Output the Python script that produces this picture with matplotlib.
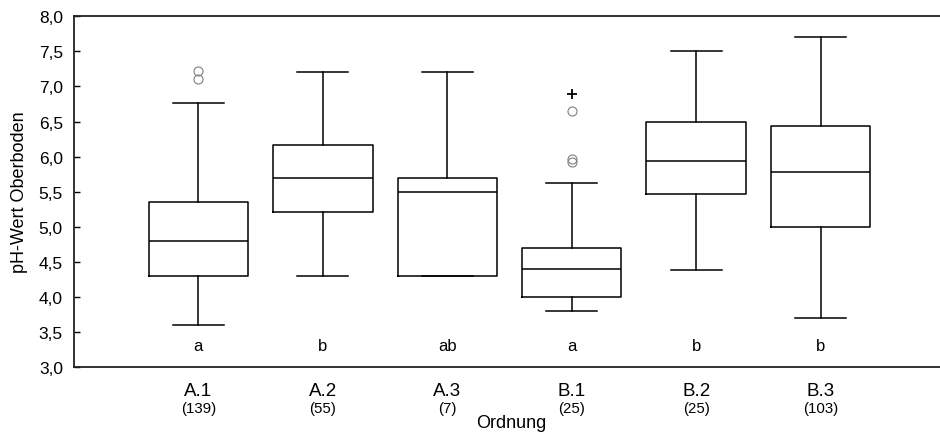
import numpy as np
import matplotlib.pyplot as plt

plt.rcParams['font.family'] = ['Liberation Sans', 'DejaVu Sans']

# values
groups = ["A.1", "A.2", "A.3", "B.1", "B.2", "B.3"]
counts = [139, 55, 7, 25, 25, 103]
whis_lo = [3.60, 4.30, 4.30, 3.80, 4.39, 3.70]
q1 = [4.30, 5.21, 4.30, 4.00, 5.47, 5.00]
med = [4.80, 5.70, 5.50, 4.40, 5.94, 5.78]
q3 = [5.35, 6.17, 5.70, 4.70, 6.50, 6.44]
whis_hi = [6.77, 7.20, 7.20, 5.62, 7.50, 7.70]
outliers = [[7.10, 7.22], [], [], [5.92, 5.97, 6.65], [], []]
extremes = [[], [], [], [6.89], [], []]
letters = ["a", "b", "ab", "a", "b", "b"]

stats = []
for i in range(len(groups)):
    stats.append(dict(whislo=whis_lo[i], q1=q1[i], med=med[i], q3=q3[i],
                      whishi=whis_hi[i], fliers=[]))

pos = np.arange(1, len(groups) + 1)

fig = plt.figure(figsize=(9.4, 4.35), dpi=100)
ax = fig.add_axes([74 / 940, 1 - 368 / 435, 871 / 940, 350.7 / 435])

lw = 1.1
ax.bxp(stats, positions=pos, widths=0.8, capwidths=0.41, showfliers=False,
       boxprops=dict(color="black", linewidth=lw),
       medianprops=dict(color="black", linewidth=lw),
       whiskerprops=dict(color="black", linewidth=lw),
       capprops=dict(color="black", linewidth=lw))

for i, p in enumerate(pos):
    if outliers[i]:
        ax.plot([p] * len(outliers[i]), outliers[i], linestyle="none", marker="o",
                markersize=6.5, markerfacecolor="none", markeredgecolor="#808080",
                markeredgewidth=0.8)
    if extremes[i]:
        ax.plot([p] * len(extremes[i]), extremes[i], linestyle="none", marker="+",
                markersize=7, color="black", markeredgewidth=1.3)
    ax.text(p, 3.31, letters[i], ha="center", va="center", fontsize=12)
    ax.annotate("(%d)" % counts[i], xy=(p, 0), xycoords=("data", "axes fraction"),
                xytext=(0, -29.5), textcoords="offset points",
                ha="center", va="center", fontsize=10.8)

ax.set_xlim(0, 7)
ax.set_ylim(3, 8)
ax.set_yticks(np.arange(3, 8.01, 0.5))
ax.set_yticklabels([("%.1f" % v).replace(".", ",") for v in np.arange(3, 8.01, 0.5)])
ax.set_xticks(pos)
ax.set_xticklabels(groups)
ax.tick_params(axis="y", direction="in", length=4, width=1, labelsize=12.5, pad=8)
ax.tick_params(axis="x", length=0, labelsize=13.5, pad=11)
ax.spines["right"].set_visible(False)
for s in ["left", "top", "bottom"]:
    ax.spines[s].set_linewidth(1.3)
    ax.spines[s].set_color("#222222")

ax.set_ylabel("pH-Wert Oberboden", fontsize=13, labelpad=8)
fig.text(511 / 940, 1 - 424 / 435, "Ordnung", ha="center", va="center", fontsize=13)

fig.savefig("out.png", dpi=100)
